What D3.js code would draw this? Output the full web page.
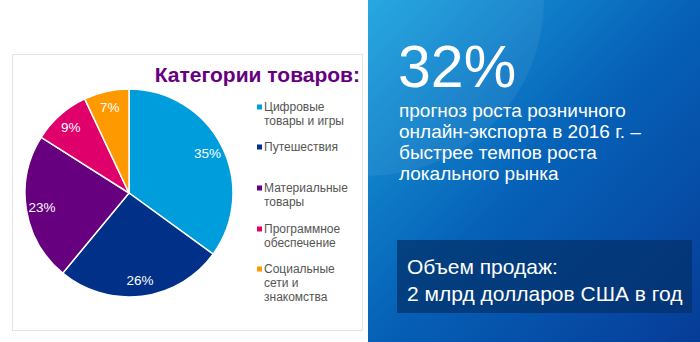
<!DOCTYPE html>
<html><head><meta charset="utf-8">
<script src="https://cdn.jsdelivr.net/npm/d3@7"></script>
<style>html,body{margin:0;padding:0;background:#fff;}svg{display:block;}</style>
</head><body>
<svg id="c" width="700" height="342"></svg>
<script>
const categories = ["Цифровые товары и игры","Путешествия","Материальные товары","Программное обеспечение","Социальные сети и знакомства"];
const legendLines = [["Цифровые","товары и игры"],["Путешествия"],["Материальные","товары"],["Программное","обеспечение"],["Социальные","сети и","знакомства"]];
const shares = [35, 26, 23, 9, 7];
const colors = ["#009ddc","#003087","#66007f","#e0006b","#ff9900"];
const chartTitle = "Категории товаров:";
const bigNumber = "32%";
const paragraph = ["прогноз роста розничного","онлайн-экспорта в 2016 г. –","быстрее темпов роста","локального рынка"];
const boxLines = ["Объем продаж:","2 млрд долларов США в год"];

const svg = d3.select("#c");
const font = "'Liberation Sans', Arial, sans-serif";

// right panel
const defs = svg.append("defs");
const g1 = defs.append("linearGradient").attr("id","bg").attr("x1","0").attr("y1","0").attr("x2","1").attr("y2","1");
g1.append("stop").attr("offset","0").attr("stop-color","#1ba3e0");
g1.append("stop").attr("offset","0.5").attr("stop-color","#0661b7");
g1.append("stop").attr("offset","1").attr("stop-color","#063c98");
svg.append("rect").attr("x",368).attr("y",0).attr("width",332).attr("height",342).attr("fill","url(#bg)");
const clip = defs.append("clipPath").attr("id","rp");
clip.append("rect").attr("x",368).attr("y",0).attr("width",332).attr("height",342);
svg.append("circle").attr("cx",368).attr("cy",0).attr("r",176).attr("fill","#ffffff").attr("opacity",0.06).attr("clip-path","url(#rp)");

svg.append("text").attr("x",398).attr("y",87).attr("fill","#fff").attr("font-family",font)
  .attr("font-size",59).text(bigNumber);
svg.selectAll("text.par").data(paragraph).join("text").attr("class","par")
  .attr("x",399).attr("y",(d,i)=>117+i*21).attr("fill","#fff").attr("font-family",font)
  .attr("font-size",19).text(d=>d);

svg.append("rect").attr("x",397).attr("y",240).attr("width",295).attr("height",73)
  .attr("fill","#03306a").attr("opacity",0.72);
svg.selectAll("text.box").data(boxLines).join("text").attr("class","box")
  .attr("x",407).attr("y",(d,i)=>274+i*27).attr("fill","#fff").attr("font-family",font)
  .attr("font-size",21).text(d=>d);

// chart frame
svg.append("rect").attr("x",12.5).attr("y",54.5).attr("width",350).attr("height",276)
  .attr("fill","#fff").attr("stroke","#e4e4e4");

svg.append("text").attr("x",360).attr("y",82).attr("text-anchor","end").attr("fill","#66007f")
  .attr("font-family",font).attr("font-weight","bold").attr("font-size",21).text(chartTitle);

const cx = 129, cy = 193, r = 104;
const pie = d3.pie().sort(null).value(d=>d)(shares);
const arc = d3.arc().innerRadius(0).outerRadius(r);
const lab = d3.arc().innerRadius(88).outerRadius(88);
const pg = svg.append("g").attr("transform",`translate(${cx},${cy})`);
pg.selectAll("path").data(pie).join("path").attr("d",arc)
  .attr("fill",(d,i)=>colors[i]).attr("stroke","#fff").attr("stroke-width",1.5);
pg.selectAll("text").data(pie).join("text")
  .attr("transform",d=>`translate(${lab.centroid(d)})`)
  .attr("text-anchor","middle").attr("dy","0.36em").attr("fill","#fff")
  .attr("font-family",font).attr("font-size",13.5).text(d=>d.data+"%");

// legend
const legTop = [107,147,188,229,269];
const lg = svg.append("g");
legendLines.forEach((lines,i)=>{
  lg.append("rect").attr("x",257).attr("y",legTop[i]-2.5).attr("width",5).attr("height",5).attr("fill",colors[i]);
  lines.forEach((t,j)=>{
    lg.append("text").attr("x",264).attr("y",legTop[i]+j*13.8).attr("dy","0.35em")
      .attr("fill","#555555").attr("font-family",font).attr("font-size",12).text(t);
  });
});
</script>
</body></html>
